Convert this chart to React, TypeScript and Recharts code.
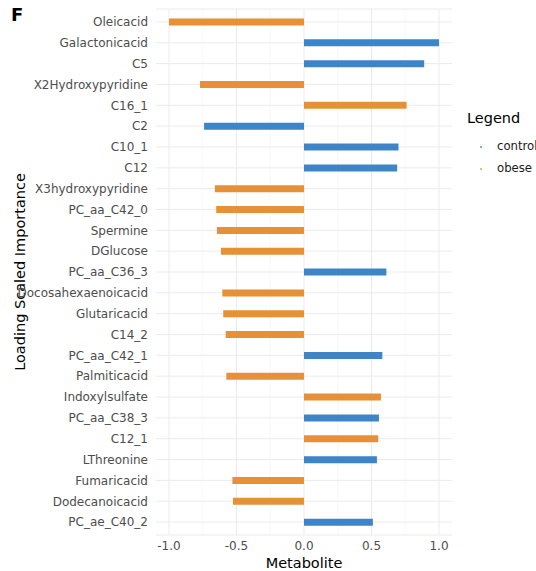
import React from "react";
import { Bar, BarChart, CartesianGrid, Cell, XAxis, YAxis } from "recharts";

const metabolites = [
  "Oleicacid",
  "Galactonicacid",
  "C5",
  "X2Hydroxypyridine",
  "C16_1",
  "C2",
  "C10_1",
  "C12",
  "X3hydroxypyridine",
  "PC_aa_C42_0",
  "Spermine",
  "DGlucose",
  "PC_aa_C36_3",
  "Docosahexaenoicacid",
  "Glutaricacid",
  "C14_2",
  "PC_aa_C42_1",
  "Palmiticacid",
  "Indoxylsulfate",
  "PC_aa_C38_3",
  "C12_1",
  "LThreonine",
  "Fumaricacid",
  "Dodecanoicacid",
  "PC_ae_C40_2",
];

const loadings = [
  -1.0, 1.0, 0.89, -0.77, 0.76, -0.74, 0.7, 0.69, -0.66, -0.65, -0.645, -0.615, 0.61,
  -0.605, -0.598, -0.58, 0.58, -0.575, 0.57, 0.555, 0.55, 0.54, -0.53, -0.526, 0.51,
];

const groups = [
  "obese", "control", "control", "obese", "obese", "control", "control", "control",
  "obese", "obese", "obese", "obese", "control", "obese", "obese", "obese", "control",
  "obese", "obese", "control", "obese", "control", "obese", "obese", "control",
];

const majorTicks = [-1, -0.5, 0, 0.5, 1];
const minorTicks = [-0.75, -0.25, 0.25, 0.75];
const legendItems = ["control", "obese"];

const BAR_COLORS: Record<string, string> = { control: "#3d85c6", obese: "#e69138" };
const KEY_COLORS: Record<string, string> = { control: "#3aa6c4", obese: "#f0a060" };
const FONT = "'DejaVu Sans', Verdana, sans-serif";

const data = metabolites.map((name, i) => ({ name, value: loadings[i], group: groups[i] }));

function YTitle({ viewBox }: any) {
  const cx = 20;
  const cy = viewBox.y + viewBox.height / 2;
  return (
    <text
      x={cx}
      y={cy}
      transform={`rotate(-90, ${cx}, ${cy})`}
      textAnchor="middle"
      dominantBaseline="central"
      fontSize={14.5}
      fill="#000"
      fontFamily={FONT}
    >
      Loading Scaled Importance
    </text>
  );
}

function XTitle({ viewBox }: any) {
  return (
    <text
      x={viewBox.x + viewBox.width / 2}
      y={563}
      textAnchor="middle"
      dominantBaseline="central"
      fontSize={14.5}
      fill="#000"
      fontFamily={FONT}
    >
      Metabolite
    </text>
  );
}

export default function App() {
  return (
    <div style={{ position: "absolute", left: 0, top: 0, width: 536, height: 571, background: "#fff", fontFamily: FONT }}>
      <div style={{ position: "absolute", left: 11, top: 4, fontSize: 18, fontWeight: "bold", color: "#000" }}>F</div>
      <BarChart
        width={536}
        height={571}
        data={data}
        layout="vertical"
        margin={{ top: 9, right: 84, left: 0, bottom: 0 }}
        barCategoryGap={0}
      >
        <CartesianGrid stroke="#ebebeb" strokeWidth={1} horizontal vertical verticalValues={majorTicks} />
        <CartesianGrid stroke="#f3f3f3" strokeWidth={0.6} horizontal={false} vertical verticalValues={minorTicks} />
        <XAxis
          type="number"
          domain={[-1.096, 1.096]}
          ticks={majorTicks}
          tickFormatter={(v: number) => v.toFixed(1)}
          axisLine={false}
          tickLine={false}
          tickSize={0}
          tickMargin={6}
          height={36}
          tick={{ fontSize: 12, fill: "#4d4d4d", fontFamily: FONT }}
          label={<XTitle />}
        />
        <YAxis
          type="category"
          dataKey="name"
          width={156}
          axisLine={false}
          tickLine={false}
          tickSize={0}
          tickMargin={8}
          interval={0}
          padding={{ top: 2.5, bottom: 2.5 }}
          tick={{ fontSize: 12, fill: "#4d4d4d", fontFamily: FONT }}
          label={<YTitle />}
        />
        <Bar dataKey="value" barSize={7} isAnimationActive={false}>
          {data.map((d) => (
            <Cell key={d.name} fill={BAR_COLORS[d.group]} />
          ))}
        </Bar>
      </BarChart>
      <div style={{ position: "absolute", left: 467, top: 110, fontSize: 14.5, color: "#000", whiteSpace: "nowrap" }}>
        Legend
      </div>
      {legendItems.map((g, i) => (
        <div
          key={g}
          style={{ position: "absolute", left: 472, top: 137 + i * 22, height: 18, display: "flex", alignItems: "center", whiteSpace: "nowrap" }}
        >
          <span style={{ display: "inline-block", width: 18, textAlign: "center" }}>
            <span style={{ display: "inline-block", width: 2, height: 2, borderRadius: 1, background: KEY_COLORS[g], verticalAlign: "middle" }} />
          </span>
          <span style={{ fontSize: 11.7, color: "#1a1a1a", marginLeft: 7 }}>{g}</span>
        </div>
      ))}
    </div>
  );
}
